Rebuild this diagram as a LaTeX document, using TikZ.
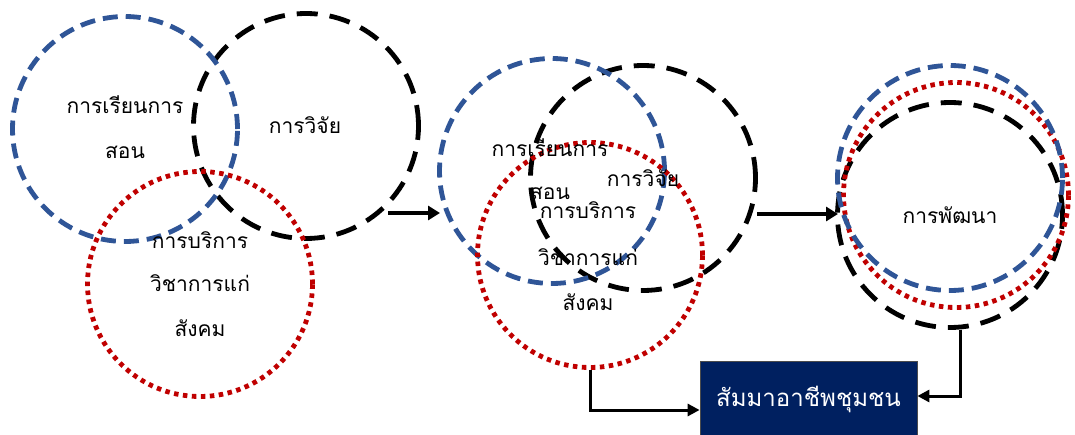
\documentclass[tikz,border=0pt]{standalone}
\usepackage{fontspec}
\newfontfamily\thaifont[Script=Thai]{Loma}
\usetikzlibrary{arrows.meta}
\definecolor{ringblue}{HTML}{2F5597}
\definecolor{ringred}{HTML}{C00000}
\definecolor{boxnavy}{HTML}{002060}
\begin{document}
\begin{tikzpicture}[x=1pt,y=-1pt,
  ring/.style={circle, line width=4.8pt, inner sep=0pt, minimum size=225pt},
  bluering/.style={ring, draw=ringblue, dash pattern=on 15pt off 8pt},
  blackring/.style={ring, draw=black, dash pattern=on 21pt off 12pt},
  redring/.style={ring, draw=ringred, dash pattern=on 4.5pt off 4.5pt},
  lbl/.style={font=\thaifont\fontsize{21}{24}\selectfont, inner sep=0pt, text=black},
  flow/.style={line width=4pt, -{Triangle[length=12pt,width=14pt]}},
  elbow/.style={line width=3pt, -{Triangle[length=12pt,width=12pt]}}
]
\useasboundingbox (0,0) rectangle (1075,435);

% group 1
\node[blackring] (k1) at (306,126) {};
\node[bluering] (b1) at (125,129) {};
\node[redring] (r1) at (200,284) {};
\node[lbl] (t1a) at (125,105) {การเรียนการ};
\node[lbl] (t1b) at (125,152) {สอน};
\node[lbl] (t1c) at (305,125) {การวิจัย};
\node[lbl] (t1d) at (200,240) {การบริการ};
\node[lbl] (t1e) at (200,283) {วิชาการแก่};
\node[lbl] (t1f) at (200,328) {สังคม};

% group 2
\node[blackring] (k2) at (643,178) {};
\node[bluering] (b2) at (552,171) {};
\node[redring] (r2) at (590,255) {};
\node[lbl] (t2a) at (550,148) {การเรียนการ};
\node[lbl] (t2b) at (550,193) {สอน};
\node[lbl] (t2c) at (643,178) {การวิจัย};
\node[lbl] (t2d) at (588,210) {การบริการ};
\node[lbl] (t2e) at (588,257) {วิชาการแก่};
\node[lbl] (t2f) at (588,302) {สังคม};

% group 3
\node[blackring] (k3) at (950,215) {};
\node[redring] (r3) at (956,195) {};
\node[bluering] (b3) at (950,178) {};
\node[lbl] (t3) at (950,215) {การพัฒนา};

% box
\node[draw=black!70, line width=0.8pt, fill=boxnavy, minimum width=217pt, minimum height=76pt, inner sep=0pt,
      font=\thaifont\fontsize{24}{28}\selectfont, text=white] (box) at (808.5,399) {สัมมาอาชีพชุมชน};

% connectors
\coordinate (a1s) at (388,213);
\coordinate (a1e) at (440,213);
\draw[flow] (a1s) -- (a1e);
\coordinate (a2s) at (757,214);
\coordinate (a2e) at (838,214);
\draw[flow] (a2s) -- (a2e);
\draw[elbow] (r2.south) |- (box.west |- 0,410);
\draw[elbow] (k3.south -| 960,0) |- (box.east |- 0,396);
\end{tikzpicture}
\end{document}
